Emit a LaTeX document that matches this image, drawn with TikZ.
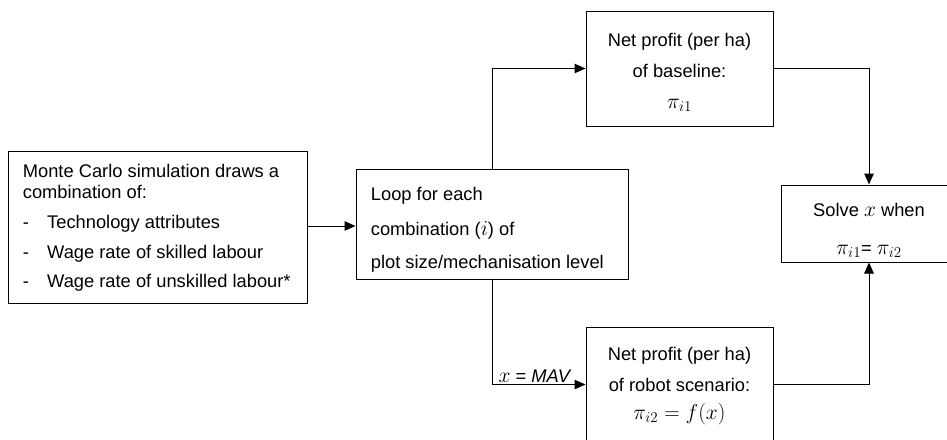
\RequirePackage{fix-cm}
\documentclass[tikz,border=0pt]{standalone}
\usepackage{fontspec}
\setmainfont{Liberation Sans}
\usetikzlibrary{arrows.meta}
\newcommand\mth[1]{{\fontsize{21.5}{22}\selectfont$#1$}}
\begin{document}
\begin{tikzpicture}[x=1pt,y=-1pt,
  box/.style={draw, line width=1pt, inner sep=0pt},
  conn/.style={line width=1pt, -{Triangle[length=11pt,width=9.5pt]}},
  tx/.style={font=\fontsize{18.3}{22}\selectfont, inner sep=0pt, anchor=base west},
  txc/.style={tx, anchor=base}]
\useasboundingbox (0,0) rectangle (947,439);
\clip (0,0) rectangle (947,439);
% boxes
\node[box, minimum width=299pt, minimum height=152pt] (mc) at (157.5,227) {};
\node[box, minimum width=272pt, minimum height=110pt] (loop) at (492,224) {};
\node[box, minimum width=187pt, minimum height=115pt] (base) at (679.5,68.5) {};
\node[box, minimum width=187pt, minimum height=115pt] (robot) at (679.5,384.5) {};
\node[box, minimum width=176pt, minimum height=77pt] (solve) at (869,223.5) {};
% texts of the Monte Carlo box
\node[tx] (mc1) at (22.7,177) {Monte Carlo simulation draws a};
\node[tx] (mc2) at (22.7,198) {combination of:};
\node[tx] (mcd1) at (22.7,228) {-};
\node[tx] (mc3) at (47,228) {Technology attributes};
\node[tx] (mcd2) at (22.7,258) {-};
\node[tx] (mc4) at (47,258) {Wage rate of skilled labour};
\node[tx] (mcd3) at (22.7,287) {-};
\node[tx] (mc5) at (47,287) {Wage rate of unskilled labour*};
% texts of the loop box
\node[tx] (lp1) at (370.7,200.7) {Loop for each};
\node[tx] (lp2) at (370.7,235) {combination (\mth{i}) of};
\node[tx] (lp3) at (370.7,268) {plot size/mechanisation level};
% texts of the baseline box
\node[txc] (b1) at (679.5,46.7) {Net profit (per ha)};
\node[txc] (b2) at (679.5,77.7) {of baseline:};
\node[txc] (b3) at (679.5,108.5) {\mth{\pi_{i1}}};
% texts of the robot box
\node[txc] (r1) at (679.5,360) {Net profit (per ha)};
\node[txc] (r2) at (679.5,391) {of robot scenario:};
\node[txc] (r3) at (679.5,419) {\mth{\pi_{i2}=f(x)}};
% texts of the solve box
\node[txc] (s1) at (869,216.7) {Solve \mth{x} when};
\node[txc] (s2) at (869,254) {\mth{\pi_{i1}}= \mth{\pi_{i2}}};
% connectors
\draw[conn] (mc.east |- 0,226) -- (loop.west |- 0,226);
\draw[conn] (loop.north) |- (base.west);
\draw[conn] (loop.south) |- (robot.west)
  node[pos=0.73, above, inner sep=1.5pt, font=\fontsize{18.3}{22}\selectfont] (mav) {\mth{x} = \textit{MAV}};
\draw[conn] (base.east) -| (solve.north);
\draw[conn] (robot.east) -| (solve.south);
\end{tikzpicture}
\end{document}
